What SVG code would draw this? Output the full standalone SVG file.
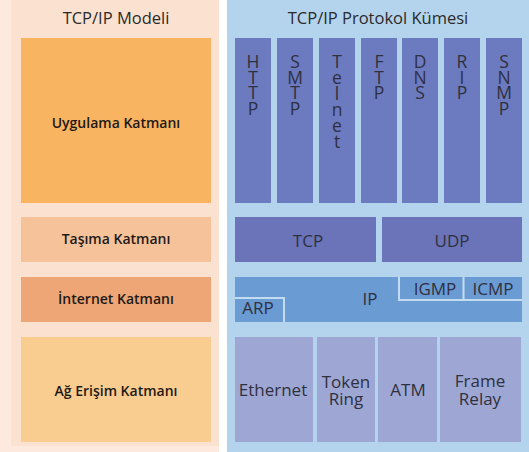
<svg xmlns="http://www.w3.org/2000/svg" width="529" height="452" viewBox="0 0 529 452">
<style>
.lt{font-family:"Open Sans","Liberation Sans",sans-serif;font-weight:600;font-size:14px;fill:#1f1a17;text-anchor:middle}
.ttl{font-family:"Open Sans","Liberation Sans",sans-serif;font-size:16.5px;fill:#2a2a2a;text-anchor:middle}
.rt{font-family:"Open Sans","Liberation Sans",sans-serif;font-size:17px;fill:#2f3040;text-anchor:middle}
.pt{font-family:"Open Sans","Liberation Sans",sans-serif;font-size:17.5px;fill:#2f3040;text-anchor:middle}
.col{fill:#6c7abf}
.tr{fill:#6b74b9}
.ln{fill:#9ea7d4}
.sep{fill:none;stroke:#c4dcf1;stroke-width:2}
</style>
<rect x="0" y="0" width="219" height="452" fill="#fde9de"/>
<rect x="11" y="0" width="208" height="446" fill="#fbe1d0"/>
<rect x="227" y="0" width="302" height="452" fill="#b4d4ee"/>
<text class="ttl" x="116" y="24">TCP/IP Modeli</text>
<text class="ttl" x="378" y="24">TCP/IP Protokol Kümesi</text>

<g id="uygulama"><rect x="21" y="38" width="190" height="165" fill="#f9b462"/><text class="lt" x="116" y="128">Uygulama Katmanı</text></g>
<g id="tasima"><rect x="21" y="217" width="190" height="45" fill="#f5c29a"/><text class="lt" x="116" y="244">Taşıma Katmanı</text></g>
<g id="internet"><rect x="21" y="277" width="190" height="45" fill="#eea676"/><text class="lt" x="116" y="304">İnternet Katmanı</text></g>
<g id="ag-erisim"><rect x="21" y="337" width="190" height="105" fill="#f9cd8f"/><text class="lt" x="116" y="396">Ağ Erişim Katmanı</text></g>

<g id="http"><rect class="col" x="235" y="38" width="36" height="165"/><text class="pt" x="253" y="68">H<tspan x="253" dy="15.7">T</tspan><tspan x="253" dy="15.7">T</tspan><tspan x="253" dy="15.7">P</tspan></text></g>
<g id="smtp"><rect class="col" x="277" y="38" width="36" height="165"/><text class="pt" x="295" y="68">S<tspan x="295" dy="15.7">M</tspan><tspan x="295" dy="15.7">T</tspan><tspan x="295" dy="15.7">P</tspan></text></g>
<g id="telnet"><rect class="col" x="319" y="38" width="36" height="165"/><text class="pt" x="337" y="68">T<tspan x="337" dy="16">e</tspan><tspan x="337" dy="16">l</tspan><tspan x="337" dy="16">n</tspan><tspan x="337" dy="16">e</tspan><tspan x="337" dy="16">t</tspan></text></g>
<g id="ftp"><rect class="col" x="361" y="38" width="36" height="165"/><text class="pt" x="379" y="68">F<tspan x="379" dy="15.7">T</tspan><tspan x="379" dy="15.7">P</tspan></text></g>
<g id="dns"><rect class="col" x="402" y="38" width="36" height="165"/><text class="pt" x="420" y="68">D<tspan x="420" dy="15.7">N</tspan><tspan x="420" dy="15.7">S</tspan></text></g>
<g id="rip"><rect class="col" x="444" y="38" width="36" height="165"/><text class="pt" x="462" y="68">R<tspan x="462" dy="15.7">I</tspan><tspan x="462" dy="15.7">P</tspan></text></g>
<g id="snmp"><rect class="col" x="486" y="38" width="36" height="165"/><text class="pt" x="504" y="68">S<tspan x="504" dy="15.7">N</tspan><tspan x="504" dy="15.7">M</tspan><tspan x="504" dy="15.7">P</tspan></text></g>

<g id="tcp"><rect class="tr" x="235" y="217" width="141" height="45"/><text class="rt" x="308" y="247">TCP</text></g>
<g id="udp"><rect class="tr" x="382" y="217" width="140" height="45"/><text class="rt" x="452" y="247">UDP</text></g>

<g id="ip"><rect x="235" y="277" width="287" height="45" fill="#6b9bd3"/><text class="rt" x="370" y="305">IP</text></g>
<g id="arp"><path class="sep" d="M235,298 H284 V322"/><text class="rt" x="258" y="314">ARP</text></g>
<g id="igmp"><path class="sep" d="M399,277 V300 H522"/><text class="rt" x="435" y="295">IGMP</text></g>
<g id="icmp"><path class="sep" d="M463.5,277 V300"/><text class="rt" x="493" y="295">ICMP</text></g>

<g id="ethernet"><rect class="ln" x="235" y="337" width="78" height="105"/><text class="rt" x="273" y="396">Ethernet</text></g>
<g id="token-ring"><rect class="ln" x="317" y="337" width="58" height="105"/><text class="rt" x="346" y="388">Token<tspan x="346" dy="17">Ring</tspan></text></g>
<g id="atm"><rect class="ln" x="378" y="337" width="59" height="105"/><text class="rt" x="408" y="396">ATM</text></g>
<g id="frame-relay"><rect class="ln" x="440" y="337" width="81" height="105"/><text class="rt" x="480" y="387">Frame<tspan x="480" dy="18">Relay</tspan></text></g>
</svg>
